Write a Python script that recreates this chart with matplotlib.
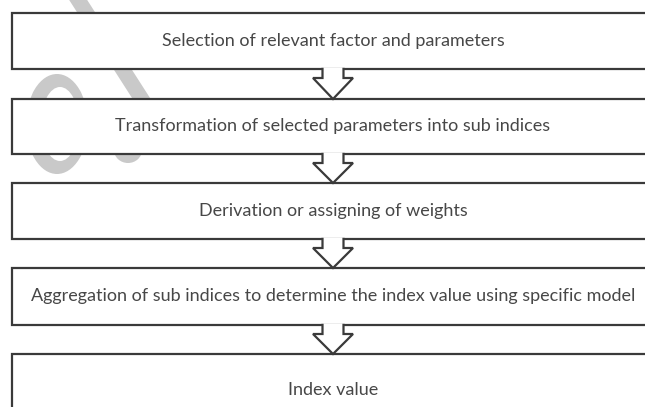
import matplotlib
matplotlib.use("Agg")
import matplotlib.pyplot as plt
import matplotlib.image as mpimg
from matplotlib.patches import Polygon, Rectangle, Ellipse, Wedge

# ---- content ----
steps = [
    "Selection of relevant factor and parameters",
    "Transformation of selected parameters into sub indices",
    "Derivation or assigning of weights",
    "Aggregation of sub indices to determine the index value using specific model",
    "Index value",
]
box_tops = [13, 99, 183, 268, 354]
box_bottoms = [69, 154, 239, 325, 426]

W, H = 645, 407
fig = plt.figure(figsize=(W / 100, H / 100), dpi=100)
ax = fig.add_axes([0, 0, 1, 1])
ax.set_xlim(0, W)
ax.set_ylim(H, 0)
ax.axis("off")

LC = "#3a3a3a"
LW = 1.6
GREY = "#c9c9c9"
FONT = "Lato"

# ---- faint watermark, visible only in the gaps between boxes ----
gap_spans = [(-20, box_tops[0])] + [(box_bottoms[i], box_tops[i + 1]) for i in range(len(box_tops) - 1)]


def watermark_shapes():
    return [
        (Ellipse((57, 124), 62, 100, facecolor=GREY, edgecolor="none"), 0.1),
        (Ellipse((60, 124), 38, 74, facecolor="white", edgecolor="none"), 0.2),
        (Polygon([(66, -5), (84, -5), (159, 112), (141, 112)], closed=True,
                 facecolor=GREY, edgecolor="none"), 0.3),
        (Ellipse((128, 150), 28, 26, facecolor=GREY, edgecolor="none"), 0.3),
        (Wedge((210, -18), 32, 180, 360, width=12, facecolor=GREY, edgecolor="none"), 0.3),
    ]


for (g0, g1) in gap_spans:
    clip = Rectangle((0, g0), W, g1 - g0, transform=ax.transData)
    for p, z in watermark_shapes():
        p.set_zorder(z)
        ax.add_patch(p)
        p.set_clip_path(clip)

# ---- boxes ----
xl, xr = 12, 680
cx = 333
shaft_half = 10.5
head_half = 20
texts = []
for i, (t, b) in enumerate(zip(box_tops, box_bottoms)):
    ax.add_patch(Rectangle((xl, t), xr - xl, b - t, facecolor="white",
                           edgecolor=LC, linewidth=LW, zorder=5))
    yc = (t + b) / 2 if i < len(box_tops) - 1 else t + 36
    texts.append(ax.text(cx, yc, steps[i], ha="center", va="center", color="#474747",
                         fontsize=10, family=FONT, zorder=8))

# fit font size so that the longest label spans ~604 px like the reference
fig.canvas.draw()
r = fig.canvas.get_renderer()
wlong = texts[3].get_window_extent(r).width
fs = 10 * 604.0 / wlong
for tx in texts:
    tx.set_fontsize(fs)

# ---- block arrows between boxes ----
for i in range(len(box_tops) - 1):
    b = box_bottoms[i]
    nt = box_tops[i + 1]
    neck = b + 9
    pts = [(cx - shaft_half, b - 1.2), (cx - shaft_half, neck), (cx - head_half, neck),
           (cx, nt), (cx + head_half, neck), (cx + shaft_half, neck),
           (cx + shaft_half, b - 1.2)]
    ax.add_patch(Polygon(pts, closed=False, facecolor="white", edgecolor=LC,
                         linewidth=LW, joinstyle="miter", zorder=7))

fig.savefig("out.png", dpi=100)

# sanity check: watermark must not show inside boxes
img = mpimg.imread("out.png")
for (x, y) in [(35, 125), (110, 40), (130, 60), (70, 30)]:
    if img[y, x, 0] < 0.99:
        raise RuntimeError("watermark visible inside box at %d,%d: %s" % (x, y, img[y, x]))
